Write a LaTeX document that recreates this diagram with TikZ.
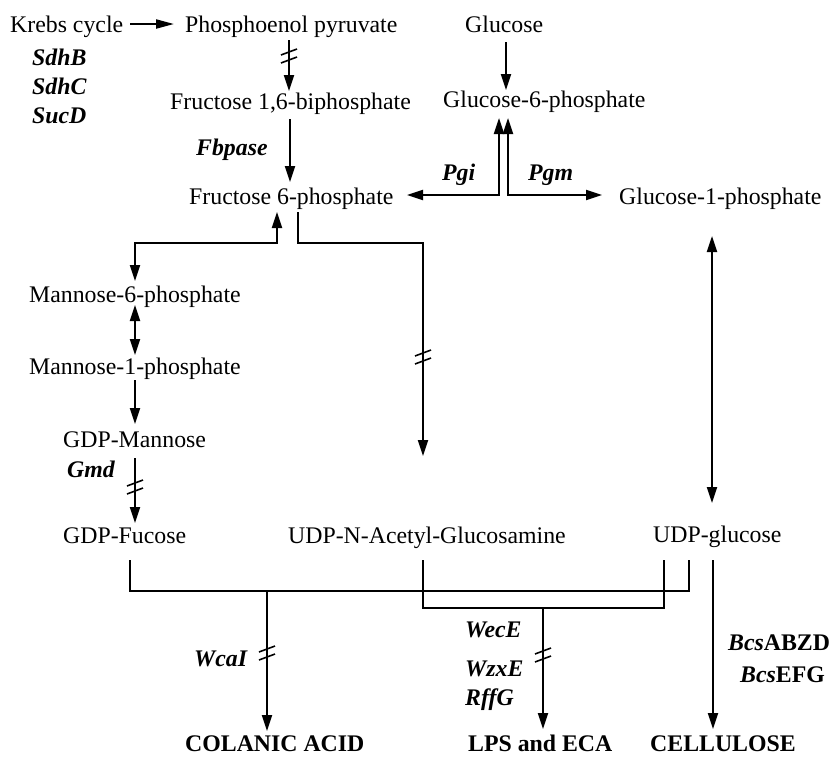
\documentclass[tikz,border=0pt]{standalone}
\usepackage{fontspec}
\setmainfont{Liberation Serif}
\usetikzlibrary{arrows.meta}
\newcommand\myfs{\fontsize{23.8pt}{28pt}\selectfont}
\tikzset{
  lbl/.style={inner sep=0pt, anchor=base west, font=\myfs},
  gene/.style={inner sep=0pt, anchor=base west, font=\myfs\bfseries\itshape},
  fin/.style={inner sep=0pt, anchor=base west, font=\myfs\bfseries},
  ln/.style={line width=2.1pt, line join=miter},
  tip/.tip={Triangle[length=16pt,width=10pt]},
  arr/.style={ln, -tip},
  darr/.style={ln, tip-tip},
  brk/.pic={\draw[line width=1.6pt] (-8,-1) -- (8,-7) (-8,7) -- (8,1);}
}
\begin{document}
\begin{tikzpicture}[x=1pt,y=-1pt]
\useasboundingbox (0,0) rectangle (832,756);
\fill[white] (0,0) rectangle (832,756);
% labels
\node[lbl] (krebs) at (10,32) {Krebs cycle};
\node[lbl] (pep) at (185,32) {Phosphoenol pyruvate};
\node[lbl] (glc) at (465,32) {Glucose};
\node[gene] (sdhb) at (32,65) {SdhB};
\node[gene] (sdhc) at (32,94) {SdhC};
\node[gene] (sucd) at (32,123) {SucD};
\node[lbl] (f16) at (170,109) {Fructose 1,6-biphosphate};
\node[lbl] (g6p) at (443,107) {Glucose-6-phosphate};
\node[gene] (fbp) at (196,155) {Fbpase};
\node[gene] (pgi) at (442,180) {Pgi};
\node[gene] (pgm) at (528,180) {Pgm};
\node[lbl] (f6p) at (189,204) {Fructose 6-phosphate};
\node[lbl] (g1p) at (619,204) {Glucose-1-phosphate};
\node[lbl] (m6p) at (29,302) {Mannose-6-phosphate};
\node[lbl] (m1p) at (29,374) {Mannose-1-phosphate};
\node[lbl] (gdpm) at (63,447) {GDP-Mannose};
\node[gene] (gmd) at (67,477) {Gmd};
\node[lbl] (gdpf) at (63,543) {GDP-Fucose};
\node[lbl] (udpnag) at (288,543) {UDP-N-Acetyl-Glucosamine};
\node[lbl] (udpg) at (653,542) {UDP-glucose};
\node[gene] (wcai) at (194,666) {WcaI};
\node[gene] (wece) at (465,637) {WecE};
\node[gene] (wzxe) at (465,676) {WzxE};
\node[gene] (rffg) at (465,705) {RffG};
\node[fin] (bcs1) at (728,650) {\itshape Bcs\upshape ABZD};
\node[fin] (bcs2) at (740,682) {\itshape Bcs\upshape EFG};
\node[fin] (ca) at (185,751) {COLANIC ACID};
\node[fin] (lps) at (468,751) {LPS and ECA};
\node[fin] (cel) at (650,751) {CELLULOSE};
% connectors
\draw[ln, -{Triangle[length=18pt,width=9pt]}] (130,24) -- (174,24);
\draw[arr] (289,40) -- (289,91);
\pic at (289,56) {brk};
\draw[arr] (290,119) -- (290,182);
\draw[arr] (506,42) -- (506,90);
\draw[darr] (407,195) -| (499,118);
\draw[darr] (602,195) -| (508,118);
\draw[darr] (277,212) |- (135,243) -- (135,281);
\draw[arr] (298,212) |- (423,243) -- (423,456);
\pic at (423,357) {brk};
\draw[darr] (135,305) -- (135,355);
\draw[arr] (135,380) -- (135,424);
\draw[arr] (135,458) -- (135,523);
\pic at (135,487) {brk};
\draw[darr] (712,236) -- (712,503);
\draw[ln] (130,560) |- (689,591) -- (689,560);
\draw[ln] (423,560) |- (664,608) -- (664,560);
\draw[arr] (267,591) -- (267,731);
\pic at (267,653) {brk};
\draw[arr] (543,608) -- (543,729);
\pic at (543,655) {brk};
\draw[arr] (713,560) -- (713,729);
\end{tikzpicture}
\end{document}
